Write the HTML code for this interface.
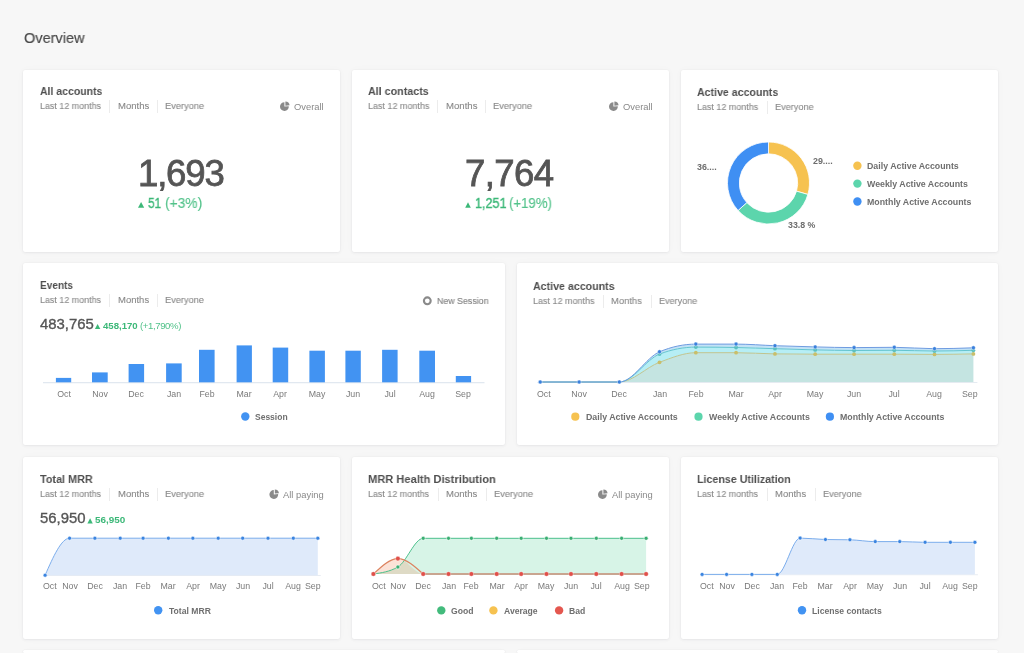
<!DOCTYPE html>
<html><head><meta charset="utf-8"><style>
html,body{margin:0;padding:0;width:1024px;height:653px;overflow:hidden;}
body{width:1024px;height:653px;overflow:hidden;background:#f7f7f7;position:relative;font-family:"Liberation Sans", sans-serif;}
.t{position:absolute;white-space:nowrap;will-change:transform;}
svg{position:absolute;overflow:visible;}
</style></head><body>
<div class="t" style="left:24.20px;top:30.00px;font-size:15.4px;line-height:15.4px;color:#4a4a4a;font-weight:400;transform:scaleX(0.9440);transform-origin:0 0;-webkit-text-stroke:0.2px #4a4a4a;">Overview</div>
<div style="position:absolute;left:23.00px;top:70.00px;width:317.00px;height:182.20px;background:#fff;border-radius:2px;box-shadow:0 0 1.5px rgba(20,20,50,0.07),0 1px 3px rgba(20,20,60,0.05),0 0 10px rgba(30,30,90,0.025);"></div>
<div style="position:absolute;left:352.00px;top:70.00px;width:317.00px;height:182.20px;background:#fff;border-radius:2px;box-shadow:0 0 1.5px rgba(20,20,50,0.07),0 1px 3px rgba(20,20,60,0.05),0 0 10px rgba(30,30,90,0.025);"></div>
<div style="position:absolute;left:681.00px;top:70.00px;width:316.50px;height:182.20px;background:#fff;border-radius:2px;box-shadow:0 0 1.5px rgba(20,20,50,0.07),0 1px 3px rgba(20,20,60,0.05),0 0 10px rgba(30,30,90,0.025);"></div>
<div style="position:absolute;left:23.00px;top:263.00px;width:481.50px;height:182.20px;background:#fff;border-radius:2px;box-shadow:0 0 1.5px rgba(20,20,50,0.07),0 1px 3px rgba(20,20,60,0.05),0 0 10px rgba(30,30,90,0.025);"></div>
<div style="position:absolute;left:516.80px;top:263.00px;width:481.50px;height:182.20px;background:#fff;border-radius:2px;box-shadow:0 0 1.5px rgba(20,20,50,0.07),0 1px 3px rgba(20,20,60,0.05),0 0 10px rgba(30,30,90,0.025);"></div>
<div style="position:absolute;left:23.00px;top:456.60px;width:317.00px;height:182.20px;background:#fff;border-radius:2px;box-shadow:0 0 1.5px rgba(20,20,50,0.07),0 1px 3px rgba(20,20,60,0.05),0 0 10px rgba(30,30,90,0.025);"></div>
<div style="position:absolute;left:352.00px;top:456.60px;width:317.00px;height:182.20px;background:#fff;border-radius:2px;box-shadow:0 0 1.5px rgba(20,20,50,0.07),0 1px 3px rgba(20,20,60,0.05),0 0 10px rgba(30,30,90,0.025);"></div>
<div style="position:absolute;left:681.00px;top:456.60px;width:316.50px;height:182.20px;background:#fff;border-radius:2px;box-shadow:0 0 1.5px rgba(20,20,50,0.07),0 1px 3px rgba(20,20,60,0.05),0 0 10px rgba(30,30,90,0.025);"></div>
<div style="position:absolute;left:23.00px;top:650.40px;width:481.50px;height:2.60px;background:#fff;border-radius:2px;box-shadow:0 0 1.5px rgba(20,20,50,0.07),0 1px 3px rgba(20,20,60,0.05),0 0 10px rgba(30,30,90,0.025);"></div>
<div style="position:absolute;left:516.80px;top:650.40px;width:481.50px;height:2.60px;background:#fff;border-radius:2px;box-shadow:0 0 1.5px rgba(20,20,50,0.07),0 1px 3px rgba(20,20,60,0.05),0 0 10px rgba(30,30,90,0.025);"></div>
<div class="t" style="left:39.90px;top:85.00px;font-size:11.6px;line-height:11.6px;color:#4f4f4f;font-weight:700;transform:scaleX(0.9043);transform-origin:0 0;">All accounts</div>
<div class="t" style="left:39.90px;top:101.00px;font-size:9.5px;line-height:9.5px;color:#888888;font-weight:400;transform:scaleX(0.9385);transform-origin:0 0;-webkit-text-stroke:0.1px #888888;">Last 12 months</div>
<div class="t" style="left:117.60px;top:101.00px;font-size:9.5px;line-height:9.5px;color:#888888;font-weight:400;transform:scaleX(1.0032);transform-origin:0 0;-webkit-text-stroke:0.1px #888888;">Months</div>
<div class="t" style="left:165.40px;top:101.00px;font-size:9.5px;line-height:9.5px;color:#888888;font-weight:400;transform:scaleX(0.9776);transform-origin:0 0;-webkit-text-stroke:0.1px #888888;">Everyone</div>
<div style="position:absolute;left:109.40px;top:100.30px;width:0.80px;height:13.00px;background:#ececec;"></div>
<div style="position:absolute;left:157.20px;top:100.30px;width:0.80px;height:13.00px;background:#ececec;"></div>
<div class="t" style="right:700.40px;top:102.00px;font-size:9.4px;line-height:9.4px;color:#8a8a8a;font-weight:400;">Overall</div>
<div class="t" style="left:137.60px;top:156.00px;font-size:36.6px;line-height:36.6px;color:#555555;font-weight:400;letter-spacing:-1.2px;-webkit-text-stroke:0.8px #555;">1,693</div>
<div class="t" style="left:147.80px;top:195.00px;font-size:15px;line-height:15px;color:#3cb878;font-weight:400;transform:scaleX(0.79);transform-origin:0 0;-webkit-text-stroke:0.4px #3cb878;">51</div>
<div class="t" style="left:164.60px;top:195.00px;font-size:15px;line-height:15px;color:#52c28a;font-weight:400;transform:scaleX(0.92);transform-origin:0 0;-webkit-text-stroke:0.15px #52c28a;">(+3%)</div>
<div class="t" style="left:368.20px;top:85.00px;font-size:11.6px;line-height:11.6px;color:#4f4f4f;font-weight:700;transform:scaleX(0.9240);transform-origin:0 0;">All contacts</div>
<div class="t" style="left:368.20px;top:101.00px;font-size:9.5px;line-height:9.5px;color:#888888;font-weight:400;transform:scaleX(0.9446);transform-origin:0 0;-webkit-text-stroke:0.1px #888888;">Last 12 months</div>
<div class="t" style="left:445.60px;top:101.00px;font-size:9.5px;line-height:9.5px;color:#888888;font-weight:400;transform:scaleX(1.0096);transform-origin:0 0;-webkit-text-stroke:0.1px #888888;">Months</div>
<div class="t" style="left:493.40px;top:101.00px;font-size:9.5px;line-height:9.5px;color:#888888;font-weight:400;transform:scaleX(0.9776);transform-origin:0 0;-webkit-text-stroke:0.1px #888888;">Everyone</div>
<div style="position:absolute;left:437.40px;top:100.30px;width:0.80px;height:13.00px;background:#ececec;"></div>
<div style="position:absolute;left:485.20px;top:100.30px;width:0.80px;height:13.00px;background:#ececec;"></div>
<div class="t" style="right:371.40px;top:102.00px;font-size:9.4px;line-height:9.4px;color:#8a8a8a;font-weight:400;">Overall</div>
<div class="t" style="left:464.60px;top:156.00px;font-size:36.6px;line-height:36.6px;color:#555555;font-weight:400;letter-spacing:-0.6px;-webkit-text-stroke:0.8px #555;">7,764</div>
<div class="t" style="left:474.60px;top:195.00px;font-size:15px;line-height:15px;color:#3cb878;font-weight:400;transform:scaleX(0.84);transform-origin:0 0;-webkit-text-stroke:0.4px #3cb878;">1,251</div>
<div class="t" style="left:509.20px;top:195.00px;font-size:15px;line-height:15px;color:#52c28a;font-weight:400;transform:scaleX(0.88);transform-origin:0 0;-webkit-text-stroke:0.15px #52c28a;">(+19%)</div>
<div class="t" style="left:696.80px;top:86.00px;font-size:11.6px;line-height:11.6px;color:#4f4f4f;font-weight:700;transform:scaleX(0.9146);transform-origin:0 0;">Active accounts</div>
<div class="t" style="left:696.80px;top:102.00px;font-size:9.5px;line-height:9.5px;color:#888888;font-weight:400;transform:scaleX(0.9415);transform-origin:0 0;-webkit-text-stroke:0.1px #888888;">Last 12 months</div>
<div class="t" style="left:775.10px;top:102.00px;font-size:9.5px;line-height:9.5px;color:#888888;font-weight:400;transform:scaleX(0.9651);transform-origin:0 0;-webkit-text-stroke:0.1px #888888;">Everyone</div>
<div style="position:absolute;left:766.90px;top:101.30px;width:0.80px;height:13.00px;background:#ececec;"></div>
<div class="t" style="left:696.80px;top:163.00px;font-size:8.9px;line-height:8.9px;color:#6d6d6d;font-weight:700;">36....</div>
<div class="t" style="left:812.80px;top:157.00px;font-size:8.9px;line-height:8.9px;color:#6d6d6d;font-weight:700;">29....</div>
<div class="t" style="left:787.60px;top:221.00px;font-size:8.8px;line-height:8.8px;color:#6d6d6d;font-weight:700;">33.8 %</div>
<div class="t" style="left:866.90px;top:162.00px;font-size:8.8px;line-height:8.8px;color:#6f6f6f;font-weight:700;">Daily Active Accounts</div>
<div class="t" style="left:866.90px;top:180.00px;font-size:8.8px;line-height:8.8px;color:#6f6f6f;font-weight:700;">Weekly Active Accounts</div>
<div class="t" style="left:866.90px;top:198.00px;font-size:8.8px;line-height:8.8px;color:#6f6f6f;font-weight:700;">Monthly Active Accounts</div>
<div class="t" style="left:40.20px;top:279.00px;font-size:11.6px;line-height:11.6px;color:#4f4f4f;font-weight:700;transform:scaleX(0.8684);transform-origin:0 0;">Events</div>
<div class="t" style="left:39.90px;top:295.00px;font-size:9.5px;line-height:9.5px;color:#888888;font-weight:400;transform:scaleX(0.9385);transform-origin:0 0;-webkit-text-stroke:0.1px #888888;">Last 12 months</div>
<div class="t" style="left:117.60px;top:295.00px;font-size:9.5px;line-height:9.5px;color:#888888;font-weight:400;transform:scaleX(0.9968);transform-origin:0 0;-webkit-text-stroke:0.1px #888888;">Months</div>
<div class="t" style="left:165.40px;top:295.00px;font-size:9.5px;line-height:9.5px;color:#888888;font-weight:400;transform:scaleX(0.9726);transform-origin:0 0;-webkit-text-stroke:0.1px #888888;">Everyone</div>
<div style="position:absolute;left:109.40px;top:294.30px;width:0.80px;height:13.00px;background:#ececec;"></div>
<div style="position:absolute;left:157.20px;top:294.30px;width:0.80px;height:13.00px;background:#ececec;"></div>
<div class="t" style="left:436.90px;top:296.00px;font-size:9.6px;line-height:9.6px;color:#858585;font-weight:400;transform:scaleX(0.9196);transform-origin:0 0;-webkit-text-stroke:0.15px #858585;">New Session</div>
<div class="t" style="left:39.80px;top:317.00px;font-size:14.9px;line-height:14.9px;color:#555555;font-weight:400;letter-spacing:0px;-webkit-text-stroke:0.35px #555;">483,765</div>
<div class="t" style="left:102.90px;top:321.00px;font-size:9.6px;line-height:9.6px;color:#3cb878;font-weight:700;">458,170</div>
<div class="t" style="left:139.90px;top:321.00px;font-size:9.6px;line-height:9.6px;color:#52c28a;font-weight:400;letter-spacing:-0.4px;">(+1,790%)</div>
<div class="t" style="left:63.55px;transform:translateX(-50%);top:390.00px;font-size:8.8px;line-height:8.8px;color:#7a7a7a;font-weight:400;">Oct</div>
<div class="t" style="left:99.85px;transform:translateX(-50%);top:390.00px;font-size:8.8px;line-height:8.8px;color:#7a7a7a;font-weight:400;">Nov</div>
<div class="t" style="left:136.35px;transform:translateX(-50%);top:390.00px;font-size:8.8px;line-height:8.8px;color:#7a7a7a;font-weight:400;">Dec</div>
<div class="t" style="left:173.90px;transform:translateX(-50%);top:390.00px;font-size:8.8px;line-height:8.8px;color:#7a7a7a;font-weight:400;">Jan</div>
<div class="t" style="left:206.80px;transform:translateX(-50%);top:390.00px;font-size:8.8px;line-height:8.8px;color:#7a7a7a;font-weight:400;">Feb</div>
<div class="t" style="left:244.25px;transform:translateX(-50%);top:390.00px;font-size:8.8px;line-height:8.8px;color:#7a7a7a;font-weight:400;">Mar</div>
<div class="t" style="left:280.45px;transform:translateX(-50%);top:390.00px;font-size:8.8px;line-height:8.8px;color:#7a7a7a;font-weight:400;">Apr</div>
<div class="t" style="left:317.15px;transform:translateX(-50%);top:390.00px;font-size:8.8px;line-height:8.8px;color:#7a7a7a;font-weight:400;">May</div>
<div class="t" style="left:353.10px;transform:translateX(-50%);top:390.00px;font-size:8.8px;line-height:8.8px;color:#7a7a7a;font-weight:400;">Jun</div>
<div class="t" style="left:389.85px;transform:translateX(-50%);top:390.00px;font-size:8.8px;line-height:8.8px;color:#7a7a7a;font-weight:400;">Jul</div>
<div class="t" style="left:427.15px;transform:translateX(-50%);top:390.00px;font-size:8.8px;line-height:8.8px;color:#7a7a7a;font-weight:400;">Aug</div>
<div class="t" style="left:463.45px;transform:translateX(-50%);top:390.00px;font-size:8.8px;line-height:8.8px;color:#7a7a7a;font-weight:400;">Sep</div>
<div class="t" style="left:255.00px;top:413.00px;font-size:8.5px;line-height:8.5px;color:#6f6f6f;font-weight:700;">Session</div>
<div class="t" style="left:532.90px;top:280.00px;font-size:11.6px;line-height:11.6px;color:#4f4f4f;font-weight:700;transform:scaleX(0.9180);transform-origin:0 0;">Active accounts</div>
<div class="t" style="left:532.90px;top:296.00px;font-size:9.5px;line-height:9.5px;color:#888888;font-weight:400;transform:scaleX(0.9462);transform-origin:0 0;-webkit-text-stroke:0.1px #888888;">Last 12 months</div>
<div class="t" style="left:611.10px;top:296.00px;font-size:9.5px;line-height:9.5px;color:#888888;font-weight:400;transform:scaleX(0.9872);transform-origin:0 0;-webkit-text-stroke:0.1px #888888;">Months</div>
<div class="t" style="left:658.90px;top:296.00px;font-size:9.5px;line-height:9.5px;color:#888888;font-weight:400;transform:scaleX(0.9551);transform-origin:0 0;-webkit-text-stroke:0.1px #888888;">Everyone</div>
<div style="position:absolute;left:602.90px;top:295.30px;width:0.80px;height:13.00px;background:#ececec;"></div>
<div style="position:absolute;left:650.70px;top:295.30px;width:0.80px;height:13.00px;background:#ececec;"></div>
<div class="t" style="left:536.70px;top:390.00px;font-size:8.8px;line-height:8.8px;color:#7a7a7a;font-weight:400;">Oct</div>
<div class="t" style="left:579.11px;transform:translateX(-50%);top:390.00px;font-size:8.8px;line-height:8.8px;color:#7a7a7a;font-weight:400;">Nov</div>
<div class="t" style="left:619.32px;transform:translateX(-50%);top:390.00px;font-size:8.8px;line-height:8.8px;color:#7a7a7a;font-weight:400;">Dec</div>
<div class="t" style="left:659.52px;transform:translateX(-50%);top:390.00px;font-size:8.8px;line-height:8.8px;color:#7a7a7a;font-weight:400;">Jan</div>
<div class="t" style="left:695.84px;transform:translateX(-50%);top:390.00px;font-size:8.8px;line-height:8.8px;color:#7a7a7a;font-weight:400;">Feb</div>
<div class="t" style="left:736.05px;transform:translateX(-50%);top:390.00px;font-size:8.8px;line-height:8.8px;color:#7a7a7a;font-weight:400;">Mar</div>
<div class="t" style="left:774.96px;transform:translateX(-50%);top:390.00px;font-size:8.8px;line-height:8.8px;color:#7a7a7a;font-weight:400;">Apr</div>
<div class="t" style="left:815.17px;transform:translateX(-50%);top:390.00px;font-size:8.8px;line-height:8.8px;color:#7a7a7a;font-weight:400;">May</div>
<div class="t" style="left:854.08px;transform:translateX(-50%);top:390.00px;font-size:8.8px;line-height:8.8px;color:#7a7a7a;font-weight:400;">Jun</div>
<div class="t" style="left:894.28px;transform:translateX(-50%);top:390.00px;font-size:8.8px;line-height:8.8px;color:#7a7a7a;font-weight:400;">Jul</div>
<div class="t" style="left:934.49px;transform:translateX(-50%);top:390.00px;font-size:8.8px;line-height:8.8px;color:#7a7a7a;font-weight:400;">Aug</div>
<div class="t" style="right:46.40px;top:390.00px;font-size:8.8px;line-height:8.8px;color:#7a7a7a;font-weight:400;">Sep</div>
<div class="t" style="left:585.50px;top:413.00px;font-size:8.8px;line-height:8.8px;color:#6f6f6f;font-weight:700;">Daily Active Accounts</div>
<div class="t" style="left:708.60px;top:413.00px;font-size:8.8px;line-height:8.8px;color:#6f6f6f;font-weight:700;">Weekly Active Accounts</div>
<div class="t" style="left:839.90px;top:413.00px;font-size:8.8px;line-height:8.8px;color:#6f6f6f;font-weight:700;">Monthly Active Accounts</div>
<div class="t" style="left:40.20px;top:473.00px;font-size:11.6px;line-height:11.6px;color:#4f4f4f;font-weight:700;transform:scaleX(0.9345);transform-origin:0 0;">Total MRR</div>
<div class="t" style="left:39.90px;top:489.00px;font-size:9.5px;line-height:9.5px;color:#888888;font-weight:400;transform:scaleX(0.9385);transform-origin:0 0;-webkit-text-stroke:0.1px #888888;">Last 12 months</div>
<div class="t" style="left:117.60px;top:489.00px;font-size:9.5px;line-height:9.5px;color:#888888;font-weight:400;transform:scaleX(1.0032);transform-origin:0 0;-webkit-text-stroke:0.1px #888888;">Months</div>
<div class="t" style="left:165.40px;top:489.00px;font-size:9.5px;line-height:9.5px;color:#888888;font-weight:400;transform:scaleX(0.9776);transform-origin:0 0;-webkit-text-stroke:0.1px #888888;">Everyone</div>
<div style="position:absolute;left:109.40px;top:488.30px;width:0.80px;height:13.00px;background:#ececec;"></div>
<div style="position:absolute;left:157.20px;top:488.30px;width:0.80px;height:13.00px;background:#ececec;"></div>
<div class="t" style="right:700.00px;top:490.00px;font-size:9.4px;line-height:9.4px;color:#8a8a8a;font-weight:400;">All paying</div>
<div class="t" style="left:39.80px;top:511.00px;font-size:14.9px;line-height:14.9px;color:#555555;font-weight:400;letter-spacing:0px;-webkit-text-stroke:0.35px #555;">56,950</div>
<div class="t" style="left:95.30px;top:515.00px;font-size:9.9px;line-height:9.9px;color:#3cb878;font-weight:700;">56,950</div>
<div class="t" style="left:42.70px;top:582.00px;font-size:8.8px;line-height:8.8px;color:#7a7a7a;font-weight:400;">Oct</div>
<div class="t" style="left:69.59px;transform:translateX(-50%);top:582.00px;font-size:8.8px;line-height:8.8px;color:#7a7a7a;font-weight:400;">Nov</div>
<div class="t" style="left:94.90px;transform:translateX(-50%);top:582.00px;font-size:8.8px;line-height:8.8px;color:#7a7a7a;font-weight:400;">Dec</div>
<div class="t" style="left:120.21px;transform:translateX(-50%);top:582.00px;font-size:8.8px;line-height:8.8px;color:#7a7a7a;font-weight:400;">Jan</div>
<div class="t" style="left:143.08px;transform:translateX(-50%);top:582.00px;font-size:8.8px;line-height:8.8px;color:#7a7a7a;font-weight:400;">Feb</div>
<div class="t" style="left:168.39px;transform:translateX(-50%);top:582.00px;font-size:8.8px;line-height:8.8px;color:#7a7a7a;font-weight:400;">Mar</div>
<div class="t" style="left:192.88px;transform:translateX(-50%);top:582.00px;font-size:8.8px;line-height:8.8px;color:#7a7a7a;font-weight:400;">Apr</div>
<div class="t" style="left:218.19px;transform:translateX(-50%);top:582.00px;font-size:8.8px;line-height:8.8px;color:#7a7a7a;font-weight:400;">May</div>
<div class="t" style="left:242.69px;transform:translateX(-50%);top:582.00px;font-size:8.8px;line-height:8.8px;color:#7a7a7a;font-weight:400;">Jun</div>
<div class="t" style="left:268.00px;transform:translateX(-50%);top:582.00px;font-size:8.8px;line-height:8.8px;color:#7a7a7a;font-weight:400;">Jul</div>
<div class="t" style="left:293.31px;transform:translateX(-50%);top:582.00px;font-size:8.8px;line-height:8.8px;color:#7a7a7a;font-weight:400;">Aug</div>
<div class="t" style="right:703.40px;top:582.00px;font-size:8.8px;line-height:8.8px;color:#7a7a7a;font-weight:400;">Sep</div>
<div class="t" style="left:168.50px;top:607.00px;font-size:8.6px;line-height:8.6px;color:#6f6f6f;font-weight:700;">Total MRR</div>
<div class="t" style="left:368.40px;top:473.00px;font-size:11.6px;line-height:11.6px;color:#4f4f4f;font-weight:700;transform:scaleX(0.9580);transform-origin:0 0;">MRR Health Distribution</div>
<div class="t" style="left:368.40px;top:489.00px;font-size:9.5px;line-height:9.5px;color:#888888;font-weight:400;transform:scaleX(0.9385);transform-origin:0 0;-webkit-text-stroke:0.1px #888888;">Last 12 months</div>
<div class="t" style="left:446.10px;top:489.00px;font-size:9.5px;line-height:9.5px;color:#888888;font-weight:400;transform:scaleX(1.0032);transform-origin:0 0;-webkit-text-stroke:0.1px #888888;">Months</div>
<div class="t" style="left:493.90px;top:489.00px;font-size:9.5px;line-height:9.5px;color:#888888;font-weight:400;transform:scaleX(0.9776);transform-origin:0 0;-webkit-text-stroke:0.1px #888888;">Everyone</div>
<div style="position:absolute;left:437.90px;top:488.30px;width:0.80px;height:13.00px;background:#ececec;"></div>
<div style="position:absolute;left:485.70px;top:488.30px;width:0.80px;height:13.00px;background:#ececec;"></div>
<div class="t" style="right:371.40px;top:490.00px;font-size:9.4px;line-height:9.4px;color:#8a8a8a;font-weight:400;">All paying</div>
<div class="t" style="left:371.50px;top:582.00px;font-size:8.8px;line-height:8.8px;color:#7a7a7a;font-weight:400;">Oct</div>
<div class="t" style="left:397.89px;transform:translateX(-50%);top:582.00px;font-size:8.8px;line-height:8.8px;color:#7a7a7a;font-weight:400;">Nov</div>
<div class="t" style="left:423.20px;transform:translateX(-50%);top:582.00px;font-size:8.8px;line-height:8.8px;color:#7a7a7a;font-weight:400;">Dec</div>
<div class="t" style="left:448.51px;transform:translateX(-50%);top:582.00px;font-size:8.8px;line-height:8.8px;color:#7a7a7a;font-weight:400;">Jan</div>
<div class="t" style="left:471.38px;transform:translateX(-50%);top:582.00px;font-size:8.8px;line-height:8.8px;color:#7a7a7a;font-weight:400;">Feb</div>
<div class="t" style="left:496.69px;transform:translateX(-50%);top:582.00px;font-size:8.8px;line-height:8.8px;color:#7a7a7a;font-weight:400;">Mar</div>
<div class="t" style="left:521.18px;transform:translateX(-50%);top:582.00px;font-size:8.8px;line-height:8.8px;color:#7a7a7a;font-weight:400;">Apr</div>
<div class="t" style="left:546.49px;transform:translateX(-50%);top:582.00px;font-size:8.8px;line-height:8.8px;color:#7a7a7a;font-weight:400;">May</div>
<div class="t" style="left:570.99px;transform:translateX(-50%);top:582.00px;font-size:8.8px;line-height:8.8px;color:#7a7a7a;font-weight:400;">Jun</div>
<div class="t" style="left:596.30px;transform:translateX(-50%);top:582.00px;font-size:8.8px;line-height:8.8px;color:#7a7a7a;font-weight:400;">Jul</div>
<div class="t" style="left:621.61px;transform:translateX(-50%);top:582.00px;font-size:8.8px;line-height:8.8px;color:#7a7a7a;font-weight:400;">Aug</div>
<div class="t" style="right:374.40px;top:582.00px;font-size:8.8px;line-height:8.8px;color:#7a7a7a;font-weight:400;">Sep</div>
<div class="t" style="left:451.20px;top:607.00px;font-size:8.6px;line-height:8.6px;color:#6f6f6f;font-weight:700;">Good</div>
<div class="t" style="left:503.70px;top:607.00px;font-size:8.6px;line-height:8.6px;color:#6f6f6f;font-weight:700;">Average</div>
<div class="t" style="left:569.00px;top:607.00px;font-size:8.6px;line-height:8.6px;color:#6f6f6f;font-weight:700;">Bad</div>
<div class="t" style="left:696.90px;top:473.00px;font-size:11.6px;line-height:11.6px;color:#4f4f4f;font-weight:700;transform:scaleX(0.9204);transform-origin:0 0;">License Utilization</div>
<div class="t" style="left:696.90px;top:489.00px;font-size:9.5px;line-height:9.5px;color:#888888;font-weight:400;transform:scaleX(0.9385);transform-origin:0 0;-webkit-text-stroke:0.1px #888888;">Last 12 months</div>
<div class="t" style="left:774.80px;top:489.00px;font-size:9.5px;line-height:9.5px;color:#888888;font-weight:400;transform:scaleX(0.9968);transform-origin:0 0;-webkit-text-stroke:0.1px #888888;">Months</div>
<div class="t" style="left:822.90px;top:489.00px;font-size:9.5px;line-height:9.5px;color:#888888;font-weight:400;transform:scaleX(0.9651);transform-origin:0 0;-webkit-text-stroke:0.1px #888888;">Everyone</div>
<div style="position:absolute;left:766.60px;top:488.30px;width:0.80px;height:13.00px;background:#ececec;"></div>
<div style="position:absolute;left:814.70px;top:488.30px;width:0.80px;height:13.00px;background:#ececec;"></div>
<div class="t" style="left:700.40px;top:582.00px;font-size:8.8px;line-height:8.8px;color:#7a7a7a;font-weight:400;">Oct</div>
<div class="t" style="left:726.60px;transform:translateX(-50%);top:582.00px;font-size:8.8px;line-height:8.8px;color:#7a7a7a;font-weight:400;">Nov</div>
<div class="t" style="left:751.92px;transform:translateX(-50%);top:582.00px;font-size:8.8px;line-height:8.8px;color:#7a7a7a;font-weight:400;">Dec</div>
<div class="t" style="left:777.24px;transform:translateX(-50%);top:582.00px;font-size:8.8px;line-height:8.8px;color:#7a7a7a;font-weight:400;">Jan</div>
<div class="t" style="left:800.11px;transform:translateX(-50%);top:582.00px;font-size:8.8px;line-height:8.8px;color:#7a7a7a;font-weight:400;">Feb</div>
<div class="t" style="left:825.43px;transform:translateX(-50%);top:582.00px;font-size:8.8px;line-height:8.8px;color:#7a7a7a;font-weight:400;">Mar</div>
<div class="t" style="left:849.93px;transform:translateX(-50%);top:582.00px;font-size:8.8px;line-height:8.8px;color:#7a7a7a;font-weight:400;">Apr</div>
<div class="t" style="left:875.25px;transform:translateX(-50%);top:582.00px;font-size:8.8px;line-height:8.8px;color:#7a7a7a;font-weight:400;">May</div>
<div class="t" style="left:899.76px;transform:translateX(-50%);top:582.00px;font-size:8.8px;line-height:8.8px;color:#7a7a7a;font-weight:400;">Jun</div>
<div class="t" style="left:925.08px;transform:translateX(-50%);top:582.00px;font-size:8.8px;line-height:8.8px;color:#7a7a7a;font-weight:400;">Jul</div>
<div class="t" style="left:950.40px;transform:translateX(-50%);top:582.00px;font-size:8.8px;line-height:8.8px;color:#7a7a7a;font-weight:400;">Aug</div>
<div class="t" style="right:46.20px;top:582.00px;font-size:8.8px;line-height:8.8px;color:#7a7a7a;font-weight:400;">Sep</div>
<div class="t" style="left:812.40px;top:607.00px;font-size:8.6px;line-height:8.6px;color:#6f6f6f;font-weight:700;">License contacts</div>
<svg width="1024" height="653" style="left:0;top:0" viewBox="0 0 1024 653"><path d="M284.40,106.60 L288.78,106.22 A4.4,4.4 0 1 1 284.40,102.20 Z" fill="#8a8a8a"/><path d="M285.40,105.70 L285.40,101.52 A4.18,4.18 0 0 1 289.56,105.34 Z" fill="#8a8a8a"/><path d="M138,207.8 L144.2,207.8 L141.1,202.1 Z" fill="#3cb878"/><path d="M613.40,106.60 L617.78,106.22 A4.4,4.4 0 1 1 613.40,102.20 Z" fill="#8a8a8a"/><path d="M614.40,105.70 L614.40,101.52 A4.18,4.18 0 0 1 618.56,105.34 Z" fill="#8a8a8a"/><path d="M465.2,207.8 L470.8,207.8 L468,202.3 Z" fill="#3cb878"/><path d="M768.50,142.00 A41.0,41.0 0 0 1 807.87,194.44 L796.54,191.15 A29.2,29.2 0 0 0 768.50,153.80 Z" fill="#f6c250" stroke="#fff" stroke-width="0.8"/><path d="M807.87,194.44 A41.0,41.0 0 0 1 738.08,210.49 L746.83,202.58 A29.2,29.2 0 0 0 796.54,191.15 Z" fill="#5cd5ac" stroke="#fff" stroke-width="0.8"/><path d="M738.08,210.49 A41.0,41.0 0 0 1 768.50,142.00 L768.50,153.80 A29.2,29.2 0 0 0 746.83,202.58 Z" fill="#3f8ff3" stroke="#fff" stroke-width="0.8"/><circle cx="857.4" cy="165.70" r="4.2" fill="#f6c250"/><circle cx="857.4" cy="183.60" r="4.2" fill="#5cd5ac"/><circle cx="857.4" cy="201.50" r="4.2" fill="#3f8ff3"/><circle cx="427.3" cy="300.8" r="3.4" fill="none" stroke="#8a8a8a" stroke-width="2.1"/><path d="M94.9,329 L100.3,329 L97.6,323.9 Z" fill="#3cb878"/><rect x="43" y="382.30" width="441.5" height="0.9" fill="#d5dfea"/><rect x="55.90" y="377.90" width="15.30" height="4.40" fill="#4293f2"/><rect x="92.00" y="372.40" width="15.70" height="9.90" fill="#4293f2"/><rect x="128.60" y="364.00" width="15.50" height="18.30" fill="#4293f2"/><rect x="166.10" y="363.40" width="15.60" height="18.90" fill="#4293f2"/><rect x="199.00" y="349.80" width="15.60" height="32.50" fill="#4293f2"/><rect x="236.60" y="345.40" width="15.30" height="36.90" fill="#4293f2"/><rect x="272.70" y="347.60" width="15.50" height="34.70" fill="#4293f2"/><rect x="309.40" y="350.70" width="15.50" height="31.60" fill="#4293f2"/><rect x="345.40" y="350.70" width="15.40" height="31.60" fill="#4293f2"/><rect x="382.10" y="349.80" width="15.50" height="32.50" fill="#4293f2"/><rect x="419.30" y="350.70" width="15.70" height="31.60" fill="#4293f2"/><rect x="455.80" y="376.00" width="15.30" height="6.30" fill="#4293f2"/><circle cx="245.3" cy="416.5" r="4.2" fill="#4293f2"/><rect x="537.20" y="382.00" width="440.20" height="0.8" fill="#dfe6ee"/><path d="M540.20,382.00C553.17,382.00 566.14,382.00 579.11,382.00C592.51,382.00 605.91,382.00 619.32,382.00C632.72,382.00 646.12,357.48 659.52,351.80C671.63,346.67 683.74,344.10 695.84,344.10C709.24,344.10 722.65,344.10 736.05,344.10C749.02,344.10 761.99,345.24 774.96,345.70C788.36,346.18 801.76,346.58 815.17,346.90C828.14,347.21 841.11,347.60 854.08,347.60C867.48,347.60 880.88,347.30 894.28,347.30C907.69,347.30 921.09,348.70 934.49,348.70C947.46,348.70 960.43,348.25 973.40,347.80L973.40,350.30C960.43,350.65 947.46,351.00 934.49,351.00C921.09,351.00 907.69,350.30 894.28,350.30C880.88,350.30 867.48,350.50 854.08,350.50C841.11,350.50 828.14,350.19 815.17,349.90C801.76,349.60 788.36,349.11 774.96,348.70C761.99,348.31 749.02,347.76 736.05,347.50C722.65,347.23 709.24,347.10 695.84,347.10C683.74,347.10 671.63,349.43 659.52,354.10C646.12,359.27 632.72,382.00 619.32,382.00C605.91,382.00 592.51,382.00 579.11,382.00C566.14,382.00 553.17,382.00 540.20,382.00Z" fill="rgb(194,226,246)"/><path d="M540.20,382.00C553.17,382.00 566.14,382.00 579.11,382.00C592.51,382.00 605.91,382.00 619.32,382.00C632.72,382.00 646.12,359.27 659.52,354.10C671.63,349.43 683.74,347.10 695.84,347.10C709.24,347.10 722.65,347.23 736.05,347.50C749.02,347.76 761.99,348.31 774.96,348.70C788.36,349.11 801.76,349.60 815.17,349.90C828.14,350.19 841.11,350.50 854.08,350.50C867.48,350.50 880.88,350.30 894.28,350.30C907.69,350.30 921.09,351.00 934.49,351.00C947.46,351.00 960.43,350.65 973.40,350.30L973.40,353.90C960.43,354.15 947.46,354.40 934.49,354.40C921.09,354.40 907.69,354.20 894.28,354.20C880.88,354.20 867.48,354.20 854.08,354.20C841.11,354.20 828.14,354.20 815.17,354.20C801.76,354.20 788.36,354.10 774.96,353.90C761.99,353.71 749.02,352.70 736.05,352.70C722.65,352.70 709.24,352.70 695.84,352.70C683.74,352.70 671.63,357.80 659.52,362.30C646.12,367.28 632.72,382.00 619.32,382.00C605.91,382.00 592.51,382.00 579.11,382.00C566.14,382.00 553.17,382.00 540.20,382.00Z" fill="rgb(182,238,245)"/><path d="M540.20,382.00C553.17,382.00 566.14,382.00 579.11,382.00C592.51,382.00 605.91,382.00 619.32,382.00C632.72,382.00 646.12,367.28 659.52,362.30C671.63,357.80 683.74,352.70 695.84,352.70C709.24,352.70 722.65,352.70 736.05,352.70C749.02,352.70 761.99,353.71 774.96,353.90C788.36,354.10 801.76,354.20 815.17,354.20C828.14,354.20 841.11,354.20 854.08,354.20C867.48,354.20 880.88,354.20 894.28,354.20C907.69,354.20 921.09,354.40 934.49,354.40C947.46,354.40 960.43,354.15 973.40,353.90L973.40,382.00L540.20,382.00Z" fill="rgb(196,228,225)"/><path d="M540.20,382.00C553.17,382.00 566.14,382.00 579.11,382.00C592.51,382.00 605.91,382.00 619.32,382.00C632.72,382.00 646.12,367.28 659.52,362.30C671.63,357.80 683.74,352.70 695.84,352.70C709.24,352.70 722.65,352.70 736.05,352.70C749.02,352.70 761.99,353.71 774.96,353.90C788.36,354.10 801.76,354.20 815.17,354.20C828.14,354.20 841.11,354.20 854.08,354.20C867.48,354.20 880.88,354.20 894.28,354.20C907.69,354.20 921.09,354.40 934.49,354.40C947.46,354.40 960.43,354.15 973.40,353.90" fill="none" stroke="#bfc48f" stroke-width="1.0"/><path d="M540.20,382.00C553.17,382.00 566.14,382.00 579.11,382.00C592.51,382.00 605.91,382.00 619.32,382.00C632.72,382.00 646.12,359.27 659.52,354.10C671.63,349.43 683.74,347.10 695.84,347.10C709.24,347.10 722.65,347.23 736.05,347.50C749.02,347.76 761.99,348.31 774.96,348.70C788.36,349.11 801.76,349.60 815.17,349.90C828.14,350.19 841.11,350.50 854.08,350.50C867.48,350.50 880.88,350.30 894.28,350.30C907.69,350.30 921.09,351.00 934.49,351.00C947.46,351.00 960.43,350.65 973.40,350.30" fill="none" stroke="#64c4cf" stroke-width="1.0"/><path d="M540.20,382.00C553.17,382.00 566.14,382.00 579.11,382.00C592.51,382.00 605.91,382.00 619.32,382.00C632.72,382.00 646.12,357.48 659.52,351.80C671.63,346.67 683.74,344.10 695.84,344.10C709.24,344.10 722.65,344.10 736.05,344.10C749.02,344.10 761.99,345.24 774.96,345.70C788.36,346.18 801.76,346.58 815.17,346.90C828.14,347.21 841.11,347.60 854.08,347.60C867.48,347.60 880.88,347.30 894.28,347.30C907.69,347.30 921.09,348.70 934.49,348.70C947.46,348.70 960.43,348.25 973.40,347.80" fill="none" stroke="#6f9be0" stroke-width="1.0"/><circle cx="659.52" cy="362.30" r="1.9" fill="#c9be6a"/><circle cx="695.84" cy="352.70" r="1.9" fill="#c9be6a"/><circle cx="736.05" cy="352.70" r="1.9" fill="#c9be6a"/><circle cx="774.96" cy="353.90" r="1.9" fill="#c9be6a"/><circle cx="815.17" cy="354.20" r="1.9" fill="#c9be6a"/><circle cx="854.08" cy="354.20" r="1.9" fill="#c9be6a"/><circle cx="894.28" cy="354.20" r="1.9" fill="#c9be6a"/><circle cx="934.49" cy="354.40" r="1.9" fill="#c9be6a"/><circle cx="973.40" cy="353.90" r="1.9" fill="#c9be6a"/><circle cx="659.52" cy="354.10" r="1.9" fill="#5cc0c0"/><circle cx="695.84" cy="347.10" r="1.9" fill="#5cc0c0"/><circle cx="736.05" cy="347.50" r="1.9" fill="#5cc0c0"/><circle cx="774.96" cy="348.70" r="1.9" fill="#5cc0c0"/><circle cx="815.17" cy="349.90" r="1.9" fill="#5cc0c0"/><circle cx="854.08" cy="350.50" r="1.9" fill="#5cc0c0"/><circle cx="894.28" cy="350.30" r="1.9" fill="#5cc0c0"/><circle cx="934.49" cy="351.00" r="1.9" fill="#5cc0c0"/><circle cx="973.40" cy="350.30" r="1.9" fill="#5cc0c0"/><circle cx="540.20" cy="382.00" r="2.0" fill="#3a80dc" stroke="#fff" stroke-opacity="0.7" stroke-width="0.6"/><circle cx="579.11" cy="382.00" r="2.0" fill="#3a80dc" stroke="#fff" stroke-opacity="0.7" stroke-width="0.6"/><circle cx="619.32" cy="382.00" r="2.0" fill="#3a80dc" stroke="#fff" stroke-opacity="0.7" stroke-width="0.6"/><circle cx="659.52" cy="351.80" r="2.0" fill="#3a80dc" stroke="#fff" stroke-opacity="0.7" stroke-width="0.6"/><circle cx="695.84" cy="344.10" r="2.0" fill="#3a80dc" stroke="#fff" stroke-opacity="0.7" stroke-width="0.6"/><circle cx="736.05" cy="344.10" r="2.0" fill="#3a80dc" stroke="#fff" stroke-opacity="0.7" stroke-width="0.6"/><circle cx="774.96" cy="345.70" r="2.0" fill="#3a80dc" stroke="#fff" stroke-opacity="0.7" stroke-width="0.6"/><circle cx="815.17" cy="346.90" r="2.0" fill="#3a80dc" stroke="#fff" stroke-opacity="0.7" stroke-width="0.6"/><circle cx="854.08" cy="347.60" r="2.0" fill="#3a80dc" stroke="#fff" stroke-opacity="0.7" stroke-width="0.6"/><circle cx="894.28" cy="347.30" r="2.0" fill="#3a80dc" stroke="#fff" stroke-opacity="0.7" stroke-width="0.6"/><circle cx="934.49" cy="348.70" r="2.0" fill="#3a80dc" stroke="#fff" stroke-opacity="0.7" stroke-width="0.6"/><circle cx="973.40" cy="347.80" r="2.0" fill="#3a80dc" stroke="#fff" stroke-opacity="0.7" stroke-width="0.6"/><circle cx="575.3" cy="416.7" r="4.1" fill="#f6c250"/><circle cx="698.5" cy="416.7" r="4.1" fill="#5cd5ac"/><circle cx="829.9" cy="416.7" r="4.1" fill="#3f8ff3"/><path d="M273.80,494.50 L278.18,494.12 A4.4,4.4 0 1 1 273.80,490.10 Z" fill="#8a8a8a"/><path d="M274.80,493.60 L274.80,489.42 A4.18,4.18 0 0 1 278.96,493.24 Z" fill="#8a8a8a"/><path d="M87.4,523.4 L92.8,523.4 L90.1,518.3 Z" fill="#3cb878"/><rect x="45.10" y="575.20" width="275.70" height="0.8" fill="#e3e8ef"/><path d="M45.10,575.20C53.26,556.70 61.43,538.20 69.59,538.20C78.03,538.20 86.47,538.20 94.90,538.20C103.34,538.20 111.78,538.20 120.21,538.20C127.84,538.20 135.46,538.20 143.08,538.20C151.51,538.20 159.95,538.20 168.39,538.20C176.55,538.20 184.72,538.20 192.88,538.20C201.32,538.20 209.75,538.20 218.19,538.20C226.36,538.20 234.52,538.20 242.69,538.20C251.12,538.20 259.56,538.20 268.00,538.20C276.43,538.20 284.87,538.20 293.31,538.20C301.47,538.20 309.64,538.20 317.80,538.20L317.80,575.20L45.10,575.20Z" fill="#dfeafa"/><path d="M45.10,575.20C53.26,556.70 61.43,538.20 69.59,538.20C78.03,538.20 86.47,538.20 94.90,538.20C103.34,538.20 111.78,538.20 120.21,538.20C127.84,538.20 135.46,538.20 143.08,538.20C151.51,538.20 159.95,538.20 168.39,538.20C176.55,538.20 184.72,538.20 192.88,538.20C201.32,538.20 209.75,538.20 218.19,538.20C226.36,538.20 234.52,538.20 242.69,538.20C251.12,538.20 259.56,538.20 268.00,538.20C276.43,538.20 284.87,538.20 293.31,538.20C301.47,538.20 309.64,538.20 317.80,538.20" fill="none" stroke="#6ea5ea" stroke-width="0.9"/><circle cx="45.10" cy="575.20" r="2.0" fill="#3a84e0" stroke="#fff" stroke-opacity="0.7" stroke-width="0.8"/><circle cx="69.59" cy="538.20" r="2.0" fill="#3a84e0" stroke="#fff" stroke-opacity="0.7" stroke-width="0.8"/><circle cx="94.90" cy="538.20" r="2.0" fill="#3a84e0" stroke="#fff" stroke-opacity="0.7" stroke-width="0.8"/><circle cx="120.21" cy="538.20" r="2.0" fill="#3a84e0" stroke="#fff" stroke-opacity="0.7" stroke-width="0.8"/><circle cx="143.08" cy="538.20" r="2.0" fill="#3a84e0" stroke="#fff" stroke-opacity="0.7" stroke-width="0.8"/><circle cx="168.39" cy="538.20" r="2.0" fill="#3a84e0" stroke="#fff" stroke-opacity="0.7" stroke-width="0.8"/><circle cx="192.88" cy="538.20" r="2.0" fill="#3a84e0" stroke="#fff" stroke-opacity="0.7" stroke-width="0.8"/><circle cx="218.19" cy="538.20" r="2.0" fill="#3a84e0" stroke="#fff" stroke-opacity="0.7" stroke-width="0.8"/><circle cx="242.69" cy="538.20" r="2.0" fill="#3a84e0" stroke="#fff" stroke-opacity="0.7" stroke-width="0.8"/><circle cx="268.00" cy="538.20" r="2.0" fill="#3a84e0" stroke="#fff" stroke-opacity="0.7" stroke-width="0.8"/><circle cx="293.31" cy="538.20" r="2.0" fill="#3a84e0" stroke="#fff" stroke-opacity="0.7" stroke-width="0.8"/><circle cx="317.80" cy="538.20" r="2.0" fill="#3a84e0" stroke="#fff" stroke-opacity="0.7" stroke-width="0.8"/><circle cx="158.2" cy="610.2" r="4.2" fill="#4293f2"/><path d="M602.40,494.60 L606.78,494.22 A4.4,4.4 0 1 1 602.40,490.20 Z" fill="#8a8a8a"/><path d="M603.40,493.70 L603.40,489.52 A4.18,4.18 0 0 1 607.56,493.34 Z" fill="#8a8a8a"/><path d="M373.40,574.00C381.56,572.83 389.73,571.67 397.89,567.00C406.33,562.18 414.77,538.30 423.20,538.30C431.64,538.30 440.08,538.30 448.51,538.30C456.14,538.30 463.76,538.30 471.38,538.30C479.81,538.30 488.25,538.30 496.69,538.30C504.85,538.30 513.02,538.30 521.18,538.30C529.62,538.30 538.05,538.30 546.49,538.30C554.66,538.30 562.82,538.30 570.99,538.30C579.42,538.30 587.86,538.30 596.30,538.30C604.73,538.30 613.17,538.30 621.61,538.30C629.77,538.30 637.94,538.30 646.10,538.30L646.10,574.00L373.40,574.00Z" fill="#d7f4e7"/><path d="M373.40,574.00C381.56,566.30 389.73,558.60 397.89,558.60C406.33,558.60 414.77,574.00 423.20,574.00C431.64,574.00 440.08,574.00 448.51,574.00C456.14,574.00 463.76,574.00 471.38,574.00C479.81,574.00 488.25,574.00 496.69,574.00C504.85,574.00 513.02,574.00 521.18,574.00C529.62,574.00 538.05,574.00 546.49,574.00C554.66,574.00 562.82,574.00 570.99,574.00C579.42,574.00 587.86,574.00 596.30,574.00C604.73,574.00 613.17,574.00 621.61,574.00C629.77,574.00 637.94,574.00 646.10,574.00L646.10,574.00L373.40,574.00Z" fill="rgba(240,150,110,0.28)"/><path d="M373.40,574.00C381.56,572.83 389.73,571.67 397.89,567.00C406.33,562.18 414.77,538.30 423.20,538.30C431.64,538.30 440.08,538.30 448.51,538.30C456.14,538.30 463.76,538.30 471.38,538.30C479.81,538.30 488.25,538.30 496.69,538.30C504.85,538.30 513.02,538.30 521.18,538.30C529.62,538.30 538.05,538.30 546.49,538.30C554.66,538.30 562.82,538.30 570.99,538.30C579.42,538.30 587.86,538.30 596.30,538.30C604.73,538.30 613.17,538.30 621.61,538.30C629.77,538.30 637.94,538.30 646.10,538.30" fill="none" stroke="#4cc08c" stroke-width="1.0"/><path d="M423.20,574.0L646.10,574.0" stroke="#c9a590" stroke-width="2.1" fill="none"/><path d="M373.40,574.00C381.56,566.30 389.73,558.60 397.89,558.60C406.33,558.60 414.77,566.30 423.20,574.00" fill="none" stroke="#dc8360" stroke-width="1.3"/><circle cx="373.40" cy="574.00" r="2.0" fill="#3aae72" stroke="#fff" stroke-opacity="0.7" stroke-width="0.8"/><circle cx="397.89" cy="567.00" r="2.0" fill="#3aae72" stroke="#fff" stroke-opacity="0.7" stroke-width="0.8"/><circle cx="423.20" cy="538.30" r="2.0" fill="#3aae72" stroke="#fff" stroke-opacity="0.7" stroke-width="0.8"/><circle cx="448.51" cy="538.30" r="2.0" fill="#3aae72" stroke="#fff" stroke-opacity="0.7" stroke-width="0.8"/><circle cx="471.38" cy="538.30" r="2.0" fill="#3aae72" stroke="#fff" stroke-opacity="0.7" stroke-width="0.8"/><circle cx="496.69" cy="538.30" r="2.0" fill="#3aae72" stroke="#fff" stroke-opacity="0.7" stroke-width="0.8"/><circle cx="521.18" cy="538.30" r="2.0" fill="#3aae72" stroke="#fff" stroke-opacity="0.7" stroke-width="0.8"/><circle cx="546.49" cy="538.30" r="2.0" fill="#3aae72" stroke="#fff" stroke-opacity="0.7" stroke-width="0.8"/><circle cx="570.99" cy="538.30" r="2.0" fill="#3aae72" stroke="#fff" stroke-opacity="0.7" stroke-width="0.8"/><circle cx="596.30" cy="538.30" r="2.0" fill="#3aae72" stroke="#fff" stroke-opacity="0.7" stroke-width="0.8"/><circle cx="621.61" cy="538.30" r="2.0" fill="#3aae72" stroke="#fff" stroke-opacity="0.7" stroke-width="0.8"/><circle cx="646.10" cy="538.30" r="2.0" fill="#3aae72" stroke="#fff" stroke-opacity="0.7" stroke-width="0.8"/><circle cx="373.40" cy="574.00" r="2.3" fill="#e0504a" stroke="#fff" stroke-opacity="0.6" stroke-width="0.6"/><circle cx="397.89" cy="558.60" r="2.3" fill="#e0504a" stroke="#fff" stroke-opacity="0.6" stroke-width="0.6"/><circle cx="423.20" cy="574.00" r="2.3" fill="#e0504a" stroke="#fff" stroke-opacity="0.6" stroke-width="0.6"/><circle cx="448.51" cy="574.00" r="2.3" fill="#e0504a" stroke="#fff" stroke-opacity="0.6" stroke-width="0.6"/><circle cx="471.38" cy="574.00" r="2.3" fill="#e0504a" stroke="#fff" stroke-opacity="0.6" stroke-width="0.6"/><circle cx="496.69" cy="574.00" r="2.3" fill="#e0504a" stroke="#fff" stroke-opacity="0.6" stroke-width="0.6"/><circle cx="521.18" cy="574.00" r="2.3" fill="#e0504a" stroke="#fff" stroke-opacity="0.6" stroke-width="0.6"/><circle cx="546.49" cy="574.00" r="2.3" fill="#e0504a" stroke="#fff" stroke-opacity="0.6" stroke-width="0.6"/><circle cx="570.99" cy="574.00" r="2.3" fill="#e0504a" stroke="#fff" stroke-opacity="0.6" stroke-width="0.6"/><circle cx="596.30" cy="574.00" r="2.3" fill="#e0504a" stroke="#fff" stroke-opacity="0.6" stroke-width="0.6"/><circle cx="621.61" cy="574.00" r="2.3" fill="#e0504a" stroke="#fff" stroke-opacity="0.6" stroke-width="0.6"/><circle cx="646.10" cy="574.00" r="2.3" fill="#e0504a" stroke="#fff" stroke-opacity="0.6" stroke-width="0.6"/><circle cx="441.3" cy="610.4" r="4.2" fill="#43bb7c"/><circle cx="493.4" cy="610.4" r="4.2" fill="#f6c250"/><circle cx="559.1" cy="610.4" r="4.2" fill="#e4574f"/><rect x="702.10" y="574.40" width="275.80" height="0.8" fill="#e3e8ef"/><path d="M702.10,574.40C710.27,574.40 718.44,574.40 726.60,574.40C735.04,574.40 743.48,574.40 751.92,574.40C760.36,574.40 768.80,574.40 777.24,574.40C784.87,574.40 792.49,538.10 800.11,538.10C808.55,538.10 816.99,539.29 825.43,539.50C833.60,539.70 841.77,539.60 849.93,539.80C858.37,540.01 866.81,541.60 875.25,541.60C883.42,541.60 891.59,541.60 899.76,541.60C908.20,541.60 916.64,542.30 925.08,542.30C933.52,542.30 941.96,542.30 950.40,542.30C958.56,542.30 966.73,542.30 974.90,542.30L974.90,574.40L702.10,574.40Z" fill="#dfeafa"/><path d="M702.10,574.40C710.27,574.40 718.44,574.40 726.60,574.40C735.04,574.40 743.48,574.40 751.92,574.40C760.36,574.40 768.80,574.40 777.24,574.40C784.87,574.40 792.49,538.10 800.11,538.10C808.55,538.10 816.99,539.29 825.43,539.50C833.60,539.70 841.77,539.60 849.93,539.80C858.37,540.01 866.81,541.60 875.25,541.60C883.42,541.60 891.59,541.60 899.76,541.60C908.20,541.60 916.64,542.30 925.08,542.30C933.52,542.30 941.96,542.30 950.40,542.30C958.56,542.30 966.73,542.30 974.90,542.30" fill="none" stroke="#6ea5ea" stroke-width="0.9"/><circle cx="702.10" cy="574.40" r="2.0" fill="#3a84e0" stroke="#fff" stroke-opacity="0.7" stroke-width="0.8"/><circle cx="726.60" cy="574.40" r="2.0" fill="#3a84e0" stroke="#fff" stroke-opacity="0.7" stroke-width="0.8"/><circle cx="751.92" cy="574.40" r="2.0" fill="#3a84e0" stroke="#fff" stroke-opacity="0.7" stroke-width="0.8"/><circle cx="777.24" cy="574.40" r="2.0" fill="#3a84e0" stroke="#fff" stroke-opacity="0.7" stroke-width="0.8"/><circle cx="800.11" cy="538.10" r="2.0" fill="#3a84e0" stroke="#fff" stroke-opacity="0.7" stroke-width="0.8"/><circle cx="825.43" cy="539.50" r="2.0" fill="#3a84e0" stroke="#fff" stroke-opacity="0.7" stroke-width="0.8"/><circle cx="849.93" cy="539.80" r="2.0" fill="#3a84e0" stroke="#fff" stroke-opacity="0.7" stroke-width="0.8"/><circle cx="875.25" cy="541.60" r="2.0" fill="#3a84e0" stroke="#fff" stroke-opacity="0.7" stroke-width="0.8"/><circle cx="899.76" cy="541.60" r="2.0" fill="#3a84e0" stroke="#fff" stroke-opacity="0.7" stroke-width="0.8"/><circle cx="925.08" cy="542.30" r="2.0" fill="#3a84e0" stroke="#fff" stroke-opacity="0.7" stroke-width="0.8"/><circle cx="950.40" cy="542.30" r="2.0" fill="#3a84e0" stroke="#fff" stroke-opacity="0.7" stroke-width="0.8"/><circle cx="974.90" cy="542.30" r="2.0" fill="#3a84e0" stroke="#fff" stroke-opacity="0.7" stroke-width="0.8"/><circle cx="802" cy="610.2" r="4.2" fill="#4293f2"/></svg>
</body></html>
